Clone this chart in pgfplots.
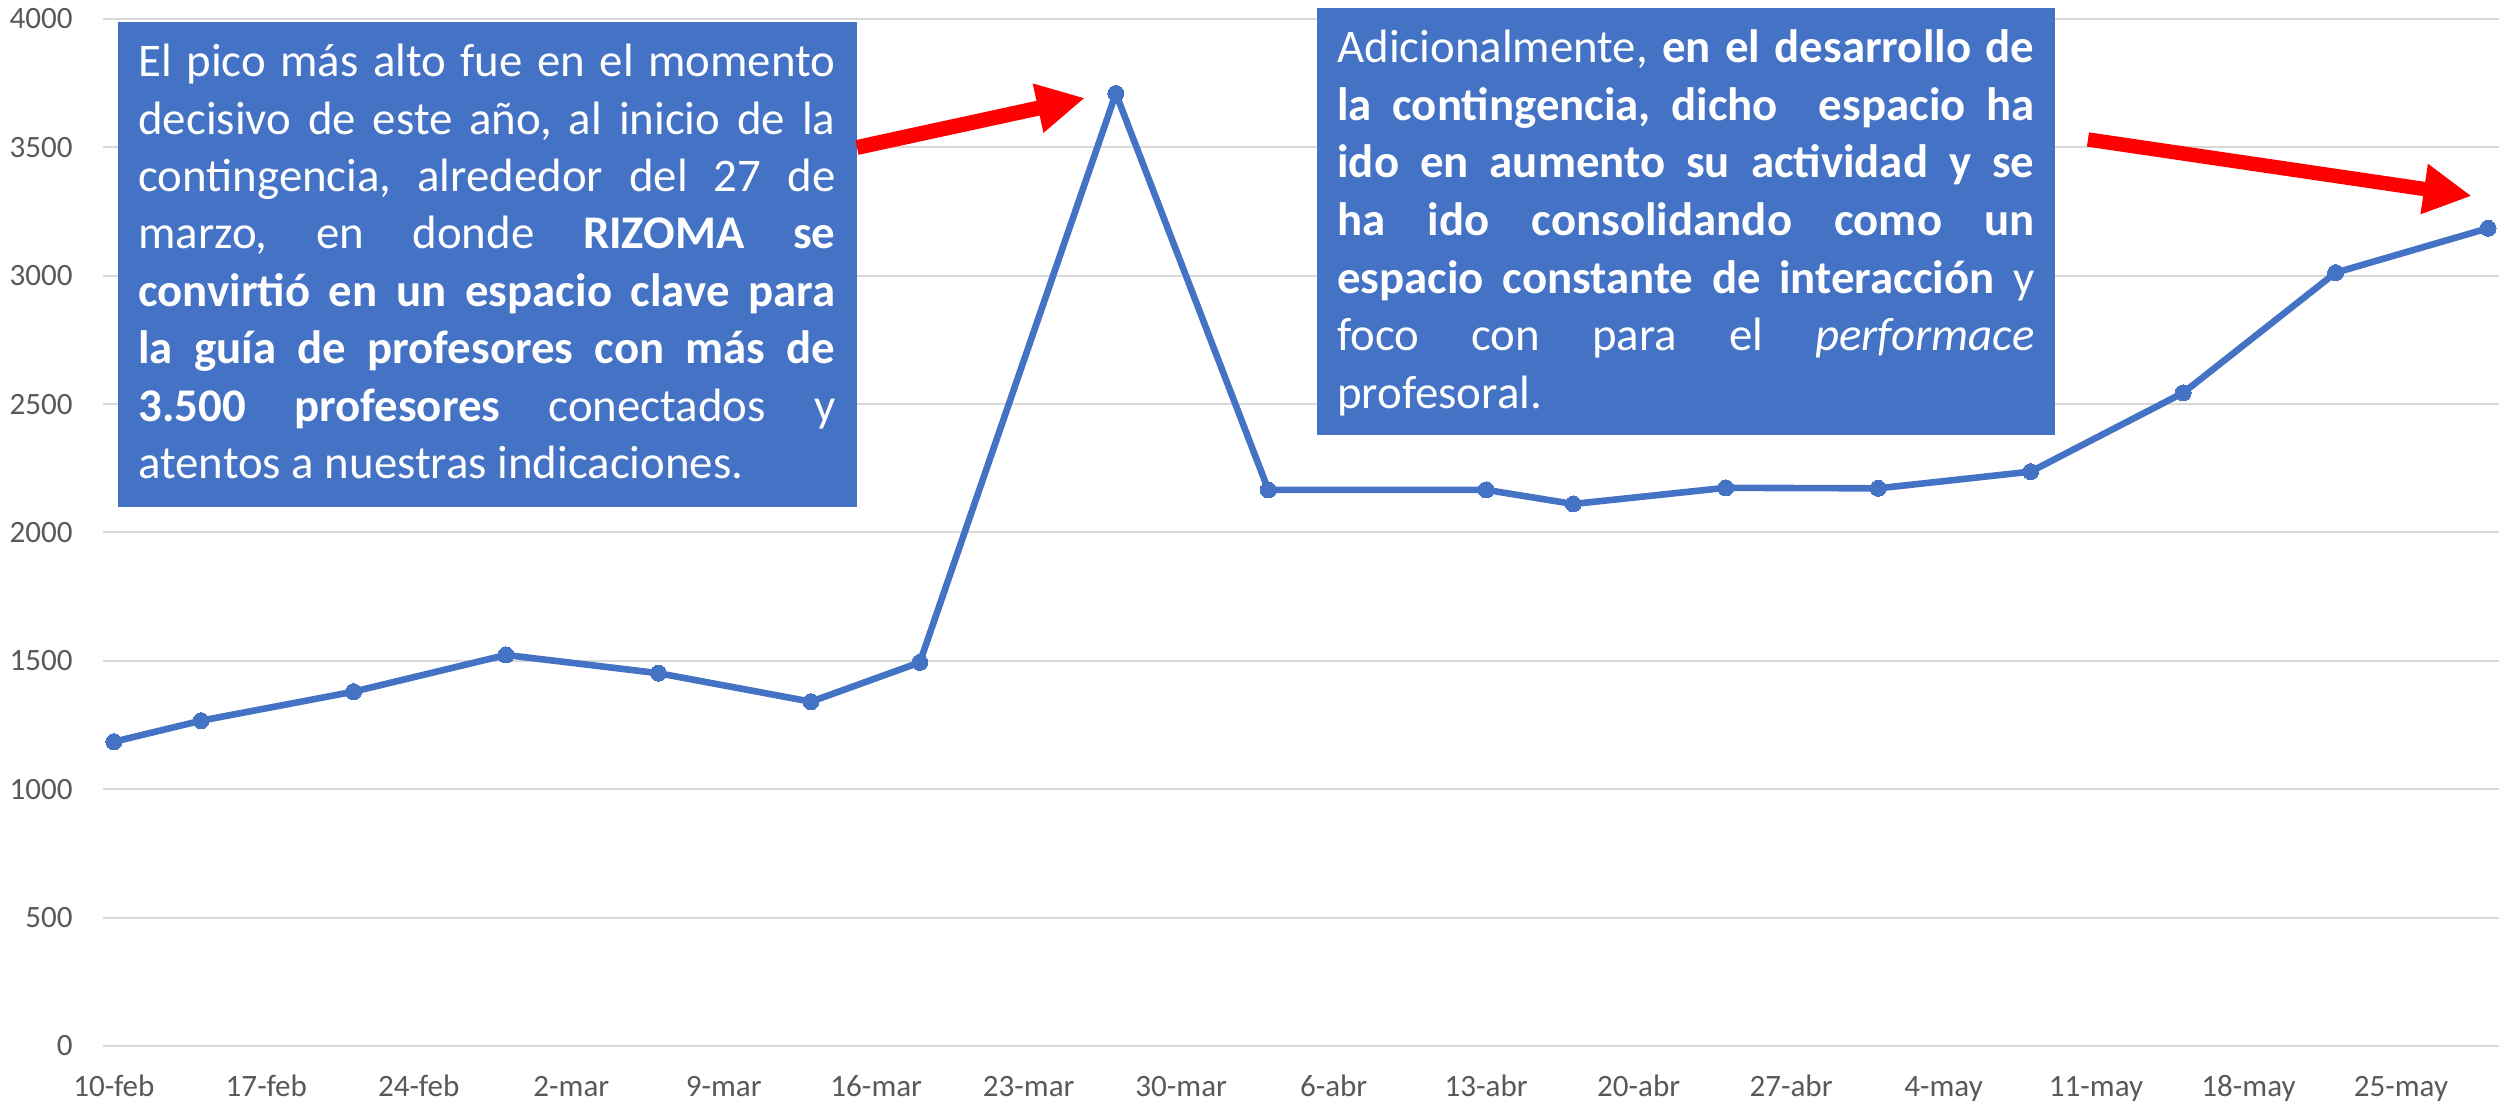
\documentclass[border=0pt]{standalone}
\usepackage{fontspec}
\setmainfont{Carlito}
\usepackage{pgfplots}
\pgfplotsset{compat=1.18}
\usetikzlibrary{arrows.meta}
\definecolor{obl}{HTML}{4472C4}
\definecolor{grd}{HTML}{D9D9D9}
\definecolor{tck}{HTML}{595959}
\frenchspacing
\newcommand{\bfnt}{\fontsize{23.5}{28}\selectfont}
\newcommand{\bl}[1]{\makebox[348.5bp][s]{#1}}
\begin{document}
\begin{tikzpicture}
\useasboundingbox (0,0) rectangle (1253bp,551.5bp);
\begin{axis}[
 at={(51.5bp,28.5bp)}, anchor=south west,
 scale only axis, width=1198bp, height=513.5bp,
 xmin=-0.5, xmax=109.5, ymin=0, ymax=4000,
 axis line style={draw=none},
 major tick length=0pt,
 ymajorgrids, grid style={grd, line width=1bp},
 ytick={0,500,1000,1500,2000,2500,3000,3500,4000},
 xtick={0,7,14,21,28,35,42,49,56,63,70,77,84,91,98,105},
 xticklabels={10-feb,17-feb,24-feb,2-mar,9-mar,16-mar,23-mar,30-mar,6-abr,13-abr,20-abr,27-abr,4-may,11-may,18-may,25-may},
 tick label style={font=\fontsize{15.6}{18}\selectfont, text=tck},
 /pgf/number format/assume math mode=true,
 /pgf/number format/1000 sep={},
 yticklabel style={anchor=east, inner sep=0pt, xshift=-15bp},
 xticklabel style={anchor=base, inner sep=0pt, yshift=-25.3bp},
 clip=false,
]
\addplot[obl, line width=3.3bp, line join=round, mark=*, mark size=4bp,
  mark options={fill=obl, draw=obl, line width=0pt}] coordinates {
 (0,1185) (4,1267) (11,1380) (18,1523) (25,1452) (32,1341) (37,1494)
 (46,3710) (53,2166) (63,2166) (67,2111) (74,2174) (81,2172) (88,2237)
 (95,2544) (102,3012) (109,3185)
};
\end{axis}
\begin{scope}[x=0.5bp, y=-0.5bp, shift={(0bp,551.5bp)}]
\fill[obl] (118,22) rectangle (857,507);
\fill[obl] (1317,8) rectangle (2055,435);
\draw[red, line width=7.5bp, -{Triangle[length=24bp,width=23.4bp]}] (857,147.5) -- (1085,98);
\draw[red, line width=7.2bp, -{Triangle[length=24bp,width=23.7bp]}] (2088,139.5) -- (2471.7,196);
\begin{scope}[every node/.style={anchor=base west, inner sep=0pt, text=white, font=\bfnt}]
\node at (138,76.7) {\bl{El pico más alto fue en el momento}};
\node at (138,134.1) {\bl{decisivo de este año, al inicio de la}};
\node at (138,191.5) {\bl{contingencia, alrededor del 27 de}};
\node at (138,248.9) {\bl{marzo, en donde \textbf{RIZOMA se}}};
\node at (138,306.3) {\bl{\textbf{convirtió en un espacio clave para}}};
\node at (138,363.7) {\bl{\textbf{la guía de profesores con más de}}};
\node at (138,421.1) {\bl{\textbf{3.500 profesores} conectados y}};
\node at (138,478.5) {atentos a nuestras indicaciones.};
\node at (1337,62.7) {\bl{Adicionalmente, \textbf{en el desarrollo de}}};
\node at (1337,120.3) {\bl{\textbf{la contingencia, dicho~ espacio ha}}};
\node at (1337,177.9) {\bl{\textbf{ido en aumento su actividad y se}}};
\node at (1337,235.5) {\bl{\textbf{ha ido consolidando como un}}};
\node at (1337,293.1) {\bl{\textbf{espacio constante de interacción} y}};
\node at (1337,350.7) {\bl{foco con para el \textit{performace}}};
\node at (1337,408.3) {profesoral.};
\end{scope}
\end{scope}
\end{tikzpicture}
\end{document}
